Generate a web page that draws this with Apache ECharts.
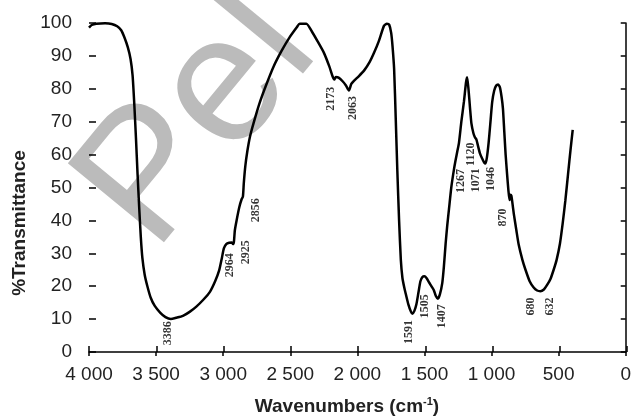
<!DOCTYPE html>
<html>
<head>
<meta charset="utf-8">
<script src="https://cdn.jsdelivr.net/npm/echarts@6/dist/echarts.min.js"></script>
<style>
  html, body { margin: 0; background: #fff; }
  #chart { width: 634px; height: 417px; }
</style>
</head>
<body>
<div id="chart"></div>
<script>
"use strict";

// spectrum (cm-1, %T)
var wavenumbers = [4000, 3980, 3946, 3880, 3831, 3790, 3760, 3735, 3710, 3690, 3675, 3662, 3650, 3638, 3626, 3614, 3602, 3585, 3565, 3540,
  3510, 3470, 3430, 3390, 3350, 3300, 3250, 3200, 3150, 3100, 3060, 3030, 3010, 2995, 2977, 2955, 2935, 2927, 2920, 2913,
  2900, 2880, 2862, 2853, 2846, 2835, 2820, 2800, 2774, 2730, 2684, 2624, 2564, 2503, 2450, 2430, 2380, 2340, 2296, 2250,
  2209, 2185, 2172, 2160, 2140, 2110, 2085, 2063, 2045, 2024, 1990, 1949, 1910, 1875, 1840, 1801, 1780, 1763, 1748, 1738,
  1726, 1714, 1702, 1689, 1676, 1664, 1650, 1640, 1620, 1600, 1590, 1575, 1560, 1545, 1530, 1515, 1500, 1485, 1466, 1445,
  1430, 1415, 1400, 1385, 1367, 1355, 1342, 1330, 1317, 1300, 1280, 1267, 1255, 1243, 1225, 1206, 1190, 1182, 1172, 1160,
  1150, 1135, 1124, 1112, 1100, 1085, 1070, 1055, 1045, 1035, 1022, 1010, 995, 980, 965, 951, 938, 925, 915, 905,
  895, 884, 874, 866, 860, 852, 845, 834, 815, 797, 770, 747, 716, 686, 660, 636, 610, 587, 560, 537,
  515, 490, 470, 450, 430, 410, 395];
var transmittance = [98.6, 99.4, 99.8, 99.9, 99.7, 99.0, 97.8, 95.5, 92.5, 89, 84, 75, 65, 54, 44, 35, 28.5, 23.5, 20, 16.5,
  14, 12, 10.6, 10, 10.4, 11, 12.2, 13.8, 15.8, 18.2, 21.5, 24.8, 28.5, 31.5, 32.8, 33.2, 33.3, 32.8, 33.5, 37,
  40, 44, 46.5, 47.2, 51.5, 56.5, 61, 65.5, 69.5, 75.5, 80.7, 86.8, 91.6, 95.8, 98.8, 99.8, 99.8, 97.5, 94.4, 91,
  86.8, 83.8, 82.8, 83.6, 83.4, 82.3, 81, 79.5, 81.5, 82.5, 83.8, 85.6, 88, 91, 94.5, 99.2, 99.8, 99.5, 97, 93,
  86, 71, 55, 40, 28, 22.5, 19.5, 17.8, 14.5, 12.2, 11.6, 12.5, 14.5, 18, 21.5, 22.8, 23, 22.5, 21.2, 19.8,
  18.8, 17, 16.2, 17.5, 21, 26, 33, 38.5, 43.5, 50, 55.5, 58.5, 61, 63.5, 70, 76, 82, 83.5, 80, 74,
  69.5, 66.5, 65.3, 64.5, 62.5, 60.2, 58.8, 57.6, 57.3, 59, 63.5, 69, 76, 79.5, 81, 81.3, 80.5, 77.5, 74, 67,
  60, 54, 49, 46.2, 47.8, 47.5, 45.5, 42, 37, 32.5, 28, 25, 21.5, 19.6, 18.7, 18.5, 19, 20.3, 22.3, 25,
  28, 33, 39, 46, 54, 62, 67.5];

// peak annotations and where their text sits (cm-1, %T)
var peakNames = ["3386", "2964", "2925", "2856", "2173", "2063", "1591", "1505", "1407", "1267", "1120", "1071", "1046", "870", "680", "632"];
var peakLabelX = [3411, 2952, 2834, 2754, 2197, 2036, 1615, 1496, 1367, 1231, 1156, 1119, 1008, 916, 703, 562];
var peakLabelY = [5.7, 26.4, 30.3, 43.1, 77, 74.2, 6.1, 13.9, 10.9, 52, 60.1, 52.2, 52.6, 40.9, 13.8, 13.8];

var spectrum = wavenumbers.map(function (w, i) {
  return [w, transmittance[i]];
});
var peaks = peakNames.map(function (n, i) {
  return [peakLabelX[i], peakLabelY[i], n];
});

function thousands(v) {
  if (v < 1000) return String(v);
  var rest = String(v % 1000);
  while (rest.length < 3) rest = "0" + rest;
  return Math.floor(v / 1000) + " " + rest;
}

var chart = echarts.init(document.getElementById("chart"));

var W = 634;
var gridLeft = 89, gridRight = 7, gridTop = 23, gridBottom = 65;

var axisFont = {
  fontFamily: "Liberation Sans, Arial, sans-serif",
  fontSize: 19,
  color: "#222",
};
var tickLine = { color: "#000", width: 1.5 };
var hidden = { show: false };

function xAxisBase(extra) {
  return Object.assign({ type: "value", min: 0, max: 4000, interval: 500, inverse: true, splitLine: hidden }, extra);
}
function yAxisBase(extra) {
  return Object.assign({ type: "value", min: 0, max: 100, interval: 10, splitLine: hidden }, extra);
}

chart.setOption({
  animation: false,
  grid: [
    // main plot
    { left: gridLeft, right: gridRight, top: gridTop, bottom: gridBottom },
    // strip left of the plot: its right-hand axis draws the inner halves of the y ticks
    { left: 0, right: W - gridLeft, top: gridTop, bottom: gridBottom },
    // copy of the plot box: its bottom axis draws the inner halves of the x ticks
    { left: gridLeft, right: gridRight, top: gridTop, bottom: gridBottom },
  ],
  xAxis: [
    xAxisBase({
      gridIndex: 0,
      position: "bottom",
      axisLine: { lineStyle: { color: "#000", width: 1.5 } },
      axisTick: { length: 4, lineStyle: tickLine },
      axisLabel: Object.assign({ margin: 13, formatter: thousands }, axisFont),
    }),
    xAxisBase({ gridIndex: 1, show: false }),
    xAxisBase({
      gridIndex: 2,
      position: "bottom",
      axisLine: hidden,
      axisTick: { inside: true, length: 6, lineStyle: tickLine },
      axisLabel: hidden,
    }),
  ],
  yAxis: [
    yAxisBase({
      gridIndex: 0,
      position: "left",
      axisLine: { show: true, lineStyle: { color: "#000", width: 1.5 } },
      axisTick: { show: true, length: 5, lineStyle: tickLine },
      axisLabel: Object.assign({ margin: 17 }, axisFont),
    }),
    yAxisBase({
      gridIndex: 1,
      position: "right",
      axisLine: hidden,
      axisTick: { show: true, length: 7, lineStyle: tickLine },
      axisLabel: hidden,
    }),
    yAxisBase({ gridIndex: 2, show: false }),
  ],
  graphic: [
    {
      // watermark
      type: "text",
      z: -10,
      x: 116,
      y: 222,
      rotation: (50.5 * Math.PI) / 180,
      silent: true,
      style: {
        text: "Pel",
        font: '181px "Liberation Sans", Arial, sans-serif',
        fill: "#bbbbbb",
        align: "left",
        verticalAlign: "middle",
      },
    },
    {
      type: "text",
      x: 20,
      y: 223,
      rotation: Math.PI / 2,
      style: {
        text: "%Transmittance",
        font: 'bold 19px "Liberation Sans", Arial, sans-serif',
        fill: "#222",
        align: "center",
        verticalAlign: "middle",
      },
    },
    {
      type: "text",
      x: 347,
      y: 407,
      style: {
        text: "{b|Wavenumbers (cm}{s|-1}{b|)}",
        align: "center",
        verticalAlign: "middle",
        rich: {
          b: { font: 'bold 19px "Liberation Sans", Arial, sans-serif', fill: "#222", lineHeight: 22 },
          s: { font: 'bold 11px "Liberation Sans", Arial, sans-serif', fill: "#222", verticalAlign: "top", lineHeight: 22 },
        },
      },
    },
  ],
  series: [
    {
      type: "line",
      data: spectrum,
      showSymbol: false,
      smooth: 0.2,
      lineStyle: { color: "#000", width: 2.5 },
      silent: true,
      z: 3,
    },
    {
      type: "scatter",
      data: peaks,
      symbolSize: 0,
      silent: true,
      z: 4,
      label: {
        show: true,
        position: "inside",
        rotate: 90,
        formatter: function (p) {
          return p.data[2];
        },
        fontFamily: "Liberation Serif, Times New Roman, serif",
        fontWeight: "bold",
        fontSize: 12,
        color: "#000",
      },
    },
  ],
});
</script>
</body>
</html>
